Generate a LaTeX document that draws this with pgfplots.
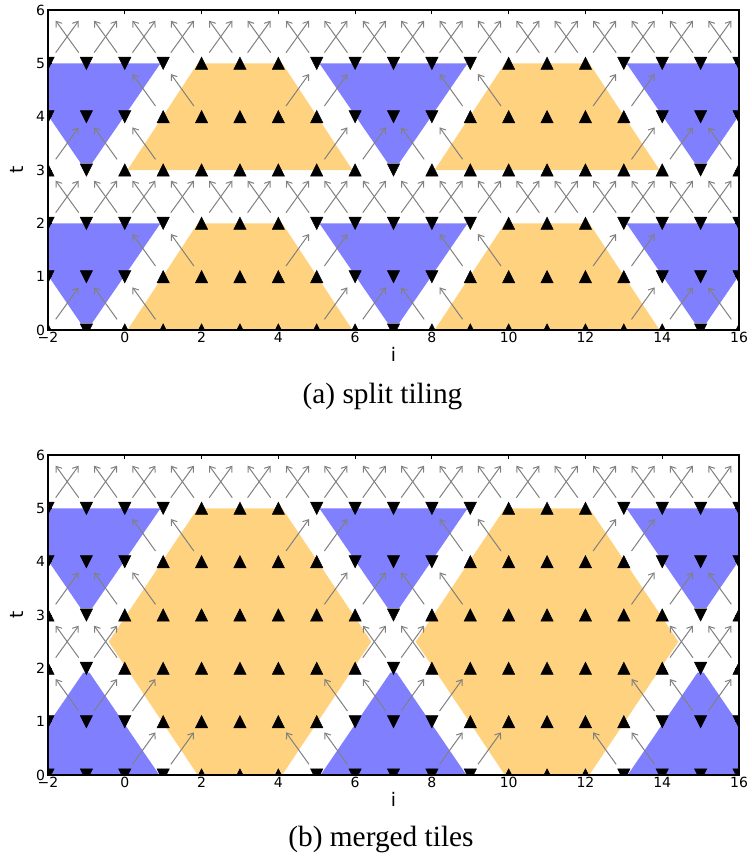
\documentclass[border=0pt]{standalone}
\usepackage{pgfplots}
\pgfplotsset{compat=1.18}
\usepackage{pgfplotstable}
\usepackage{fontspec}
\setmainfont{Liberation Serif}
\newfontfamily\dejavu{DejaVu Sans}
\usetikzlibrary{arrows.meta}
\definecolor{tileblue}{RGB}{128,128,255}
\definecolor{tileorange}{RGB}{255,210,127}
\definecolor{arrowgray}{RGB}{128,128,128}

\pgfdeclareplotmark{mtriup}{%
  \pgfpathmoveto{\pgfpoint{0pt}{\pgfplotmarksize}}%
  \pgfpathlineto{\pgfpoint{-\pgfplotmarksize}{-\pgfplotmarksize}}%
  \pgfpathlineto{\pgfpoint{\pgfplotmarksize}{-\pgfplotmarksize}}%
  \pgfpathclose\pgfusepathqfillstroke}
\pgfdeclareplotmark{mtridown}{%
  \pgfpathmoveto{\pgfpoint{0pt}{-\pgfplotmarksize}}%
  \pgfpathlineto{\pgfpoint{-\pgfplotmarksize}{\pgfplotmarksize}}%
  \pgfpathlineto{\pgfpoint{\pgfplotmarksize}{\pgfplotmarksize}}%
  \pgfpathclose\pgfusepathqfillstroke}

% arrows: start lattice point (i,t); up-right means to (i+1,t+1), up-left to (i-1,t+1)
\pgfplotstableread{
i t
-2 0
5 0
6 0
13 0
14 0
4 1
5 1
12 1
13 1
-2 2
-1 2
0 2
1 2
2 2
3 2
4 2
5 2
6 2
7 2
8 2
9 2
10 2
11 2
12 2
13 2
14 2
15 2
-2 3
5 3
6 3
13 3
14 3
4 4
5 4
12 4
13 4
-2 5
-1 5
0 5
1 5
2 5
3 5
4 5
5 5
6 5
7 5
8 5
9 5
10 5
11 5
12 5
13 5
14 5
15 5
}\topright
\pgfplotstableread{
i t
0 0
1 0
8 0
9 0
16 0
1 1
2 1
9 1
10 1
-1 2
0 2
1 2
2 2
3 2
4 2
5 2
6 2
7 2
8 2
9 2
10 2
11 2
12 2
13 2
14 2
15 2
16 2
0 3
1 3
8 3
9 3
16 3
1 4
2 4
9 4
10 4
-1 5
0 5
1 5
2 5
3 5
4 5
5 5
6 5
7 5
8 5
9 5
10 5
11 5
12 5
13 5
14 5
15 5
16 5
}\topleft
\pgfplotstableread{
i t
0 0
1 0
8 0
9 0
-1 1
0 1
7 1
8 1
15 1
-2 2
-1 2
6 2
7 2
14 2
15 2
-2 3
5 3
6 3
13 3
14 3
4 4
5 4
12 4
13 4
-2 5
-1 5
0 5
1 5
2 5
3 5
4 5
5 5
6 5
7 5
8 5
9 5
10 5
11 5
12 5
13 5
14 5
15 5
}\botright
\pgfplotstableread{
i t
5 0
6 0
13 0
14 0
-1 1
6 1
7 1
14 1
15 1
-1 2
0 2
7 2
8 2
15 2
16 2
0 3
1 3
8 3
9 3
16 3
1 4
2 4
9 4
10 4
-1 5
0 5
1 5
2 5
3 5
4 5
5 5
6 5
7 5
8 5
9 5
10 5
11 5
12 5
13 5
14 5
15 5
16 5
}\botleft

\pgfplotsset{
  tilestyle/.style={
    width=518.25pt, height=240pt, scale only axis,
    xmin=-2, xmax=16, ymin=0, ymax=6,
    xtick={-2,0,...,16},
    xticklabels={−2,0,2,4,6,8,10,12,14,16},
    ytick={0,1,...,6},
    yticklabels={0,1,2,3,4,5,6},
    tick align=inside,
    major tick length=3pt,
    axis line style={line width=0.8pt},
    every tick/.style={black, line width=0.6pt},
    xticklabel style={font=\dejavu\fontsize{10.5}{12}\selectfont, inner sep=1.5pt},
    yticklabel style={font=\dejavu\fontsize{10.5}{12}\selectfont, inner sep=2pt},
    label style={font=\dejavu\fontsize{14}{16}\selectfont},
    xlabel={i}, ylabel={t},
    xlabel style={at={(axis description cs:0.5,-0.075)}, anchor=center},
    ylabel style={at={(axis description cs:-0.045,0.5)}, anchor=center},
    clip marker paths=true,
    axis on top,
  },
  arrowsR/.style={arrowgray, line width=0.75pt, -{Straight Barb[length=3.8pt,width=5.5pt]},
    quiver={u=0.6, v=0.6}},
  arrowsL/.style={arrowgray, line width=0.75pt, -{Straight Barb[length=3.8pt,width=5.5pt]},
    quiver={u=-0.6, v=0.6}},
  markdown/.style={only marks, mark=mtridown, mark size=4.6pt, black, line width=0.4pt},
  markup/.style={only marks, mark=mtriup, mark size=4.6pt, black, line width=0.4pt},
}

\begin{document}
\begin{tikzpicture}
\useasboundingbox (-36pt,7.5pt) rectangle (527.25pt,-635.25pt);

% ---------------- (a) split tiling ----------------
\begin{axis}[tilestyle, at={(0pt,0pt)}, anchor=north west]
% blue tiles
\addplot[fill=tileblue, draw=none] coordinates {(-2.93,2)(0.93,2)(-0.85,0.13)(-1.15,0.13)} -- cycle;
\addplot[fill=tileblue, draw=none] coordinates {(5.07,2)(8.93,2)(7.15,0.13)(6.85,0.13)} -- cycle;
\addplot[fill=tileblue, draw=none] coordinates {(13.07,2)(16.93,2)(15.15,0.13)(14.85,0.13)} -- cycle;
\addplot[fill=tileblue, draw=none] coordinates {(-2.93,5)(0.93,5)(-0.85,3.13)(-1.15,3.13)} -- cycle;
\addplot[fill=tileblue, draw=none] coordinates {(5.07,5)(8.93,5)(7.15,3.13)(6.85,3.13)} -- cycle;
\addplot[fill=tileblue, draw=none] coordinates {(13.07,5)(16.93,5)(15.15,3.13)(14.85,3.13)} -- cycle;
% orange tiles
\addplot[fill=tileorange, draw=none] coordinates {(0.07,0)(5.93,0)(4.1,2)(1.9,2)} -- cycle;
\addplot[fill=tileorange, draw=none] coordinates {(8.07,0)(13.93,0)(12.1,2)(9.9,2)} -- cycle;
\addplot[fill=tileorange, draw=none] coordinates {(0.07,3)(5.93,3)(4.1,5)(1.9,5)} -- cycle;
\addplot[fill=tileorange, draw=none] coordinates {(8.07,3)(13.93,3)(12.1,5)(9.9,5)} -- cycle;
% dependency arrows
\addplot[arrowsR] table[x expr=\thisrow{i}+0.2, y expr=\thisrow{t}+0.2] {\topright};
\addplot[arrowsL] table[x expr=\thisrow{i}-0.2, y expr=\thisrow{t}+0.2] {\topleft};
% points
\addplot[markdown] coordinates {
(-1,0)(7,0)(15,0)
(-2,1)(-1,1)(0,1)(6,1)(7,1)(8,1)(14,1)(15,1)(16,1)
(-2,2)(-1,2)(0,2)(1,2)(5,2)(6,2)(7,2)(8,2)(9,2)(13,2)(14,2)(15,2)(16,2)
(-1,3)(7,3)(15,3)
(-2,4)(-1,4)(0,4)(6,4)(7,4)(8,4)(14,4)(15,4)(16,4)
(-2,5)(-1,5)(0,5)(1,5)(5,5)(6,5)(7,5)(8,5)(9,5)(13,5)(14,5)(15,5)(16,5)};
\addplot[markup] coordinates {
(-2,0)(0,0)(1,0)(2,0)(3,0)(4,0)(5,0)(6,0)(8,0)(9,0)(10,0)(11,0)(12,0)(13,0)(14,0)(16,0)
(1,1)(2,1)(3,1)(4,1)(5,1)(9,1)(10,1)(11,1)(12,1)(13,1)
(2,2)(3,2)(4,2)(10,2)(11,2)(12,2)
(-2,3)(0,3)(1,3)(2,3)(3,3)(4,3)(5,3)(6,3)(8,3)(9,3)(10,3)(11,3)(12,3)(13,3)(14,3)(16,3)
(1,4)(2,4)(3,4)(4,4)(5,4)(9,4)(10,4)(11,4)(12,4)(13,4)
(2,5)(3,5)(4,5)(10,5)(11,5)(12,5)};
\end{axis}
\node[font=\fontsize{22}{26}\selectfont, anchor=base] at (250.9pt,-294.75pt) {(a) split tiling};

% ---------------- (b) merged tiles ----------------
\begin{axis}[tilestyle, at={(0pt,-333.75pt)}, anchor=north west]
% blue tiles (lower, pointing up)
\addplot[fill=tileblue, draw=none] coordinates {(-2.9,0)(0.9,0)(-0.92,1.92)(-1.08,1.92)} -- cycle;
\addplot[fill=tileblue, draw=none] coordinates {(5.1,0)(8.9,0)(7.08,1.92)(6.92,1.92)} -- cycle;
\addplot[fill=tileblue, draw=none] coordinates {(13.1,0)(16.9,0)(15.08,1.92)(14.92,1.92)} -- cycle;
% blue tiles (upper, pointing down)
\addplot[fill=tileblue, draw=none] coordinates {(-2.93,5)(0.93,5)(-0.85,3.13)(-1.15,3.13)} -- cycle;
\addplot[fill=tileblue, draw=none] coordinates {(5.07,5)(8.93,5)(7.15,3.13)(6.85,3.13)} -- cycle;
\addplot[fill=tileblue, draw=none] coordinates {(13.07,5)(16.93,5)(15.15,3.13)(14.85,3.13)} -- cycle;
% orange merged tiles
\addplot[fill=tileorange, draw=none] coordinates {(1.9,0)(4.1,0)(6.42,2.5)(4.1,5)(1.9,5)(-0.42,2.5)} -- cycle;
\addplot[fill=tileorange, draw=none] coordinates {(9.9,0)(12.1,0)(14.42,2.5)(12.1,5)(9.9,5)(7.58,2.5)} -- cycle;
% dependency arrows
\addplot[arrowsR] table[x expr=\thisrow{i}+0.2, y expr=\thisrow{t}+0.2] {\botright};
\addplot[arrowsL] table[x expr=\thisrow{i}-0.2, y expr=\thisrow{t}+0.2] {\botleft};
% points
\addplot[markdown] coordinates {
(-2,0)(-1,0)(0,0)(1,0)(5,0)(6,0)(7,0)(8,0)(9,0)(13,0)(14,0)(15,0)(16,0)
(-2,1)(-1,1)(0,1)(6,1)(7,1)(8,1)(14,1)(15,1)(16,1)
(-1,2)(7,2)(15,2)
(-1,3)(7,3)(15,3)
(-2,4)(-1,4)(0,4)(6,4)(7,4)(8,4)(14,4)(15,4)(16,4)
(-2,5)(-1,5)(0,5)(1,5)(5,5)(6,5)(7,5)(8,5)(9,5)(13,5)(14,5)(15,5)(16,5)};
\addplot[markup] coordinates {
(2,0)(3,0)(4,0)(10,0)(11,0)(12,0)
(1,1)(2,1)(3,1)(4,1)(5,1)(9,1)(10,1)(11,1)(12,1)(13,1)
(-2,2)(0,2)(1,2)(2,2)(3,2)(4,2)(5,2)(6,2)(8,2)(9,2)(10,2)(11,2)(12,2)(13,2)(14,2)(16,2)
(-2,3)(0,3)(1,3)(2,3)(3,3)(4,3)(5,3)(6,3)(8,3)(9,3)(10,3)(11,3)(12,3)(13,3)(14,3)(16,3)
(1,4)(2,4)(3,4)(4,4)(5,4)(9,4)(10,4)(11,4)(12,4)(13,4)
(2,5)(3,5)(4,5)(10,5)(11,5)(12,5)};
\end{axis}
\node[font=\fontsize{22}{26}\selectfont, anchor=base] at (249.75pt,-627pt) {(b) merged tiles};
\end{tikzpicture}
\end{document}
